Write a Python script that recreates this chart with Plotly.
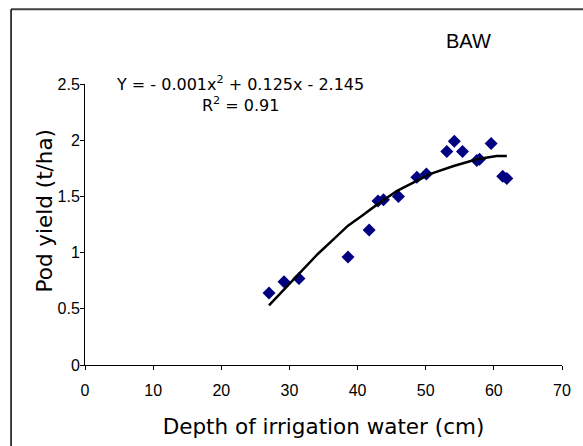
import plotly.graph_objects as go

# Observed data (depth of irrigation water, pod yield)
depth_cm = [27.0, 29.2, 31.4, 38.6, 41.7, 43.0, 43.8, 46.0, 48.7, 50.1,
            53.1, 54.2, 55.4, 57.5, 57.9, 59.6, 61.3, 61.9]
pod_yield = [0.64, 0.74, 0.77, 0.96, 1.20, 1.46, 1.47, 1.50, 1.67, 1.70,
             1.90, 1.99, 1.90, 1.82, 1.83, 1.97, 1.68, 1.66]

# Polynomial trendline
trend_x = [27.0, 29.0, 31.3, 34.2, 36.5, 38.6, 40.7, 42.7, 45.8, 48.3, 50.7, 54.1, 57.5, 60.4, 61.9]
trend_y = [0.53, 0.66, 0.80, 0.99, 1.12, 1.24, 1.33, 1.42, 1.55, 1.63, 1.70, 1.77, 1.83, 1.86, 1.86]

x_ticks = [0, 10, 20, 30, 40, 50, 60, 70]
y_ticks = [0, 0.5, 1, 1.5, 2, 2.5]
y_tick_text = ["0", "0.5", "1", "1.5", "2", "2.5"]

equation_text = "Y = - 0.001x<sup>2</sup> + 0.125x - 2.145<br>R<sup>2</sup> = 0.91"
panel_label = "BAW"
x_title = "Depth of irrigation water (cm)"
y_title = "Pod yield (t/ha)"

fig = go.Figure()
fig.add_trace(go.Scatter(
    x=depth_cm, y=pod_yield, mode="markers",
    marker=dict(symbol="diamond", size=10, color="#000080",
                line=dict(width=0)),
    showlegend=False, hoverinfo="x+y"))
fig.add_trace(go.Scatter(
    x=trend_x, y=trend_y, mode="lines",
    line=dict(color="black", width=2.5),
    showlegend=False, hoverinfo="skip"))

fig.update_layout(
    width=583, height=446,
    margin=dict(l=85, r=16, t=84, b=79, pad=0),
    paper_bgcolor="white", plot_bgcolor="white",
    font=dict(family="Liberation Sans, Arial, sans-serif", color="black"),
    xaxis=dict(range=[0, 70], tickvals=x_ticks, ticks="outside", ticklen=4,
               tickcolor="black", showline=True, linecolor="black", linewidth=1,
               showgrid=False, zeroline=False, ticklabelstandoff=7,
               tickfont=dict(size=16, family="Liberation Sans, Arial"),
               title=dict(text=x_title, standoff=20,
                          font=dict(size=21.5, family="DejaVu Sans, Verdana"))),
    yaxis=dict(range=[0, 2.5], tickvals=y_ticks, ticktext=y_tick_text,
               ticks="outside", ticklen=4, ticklabelstandoff=-3,
               tickcolor="black", showline=True, linecolor="black", linewidth=1,
               showgrid=False, zeroline=False,
               tickfont=dict(size=16, family="Liberation Sans, Arial")),
    annotations=[
        dict(text=y_title, xref="paper", yref="paper", x=-0.085, y=0.548,
             xanchor="center", yanchor="middle", showarrow=False, textangle=-90,
             font=dict(size=21.5, family="DejaVu Sans, Verdana", color="black")),
        dict(text=equation_text, xref="paper", yref="paper", x=0.325, y=0.963,
             xanchor="center", yanchor="middle", showarrow=False, align="center",
             font=dict(size=16, family="DejaVu Sans, Verdana", color="black")),
        dict(text=panel_label, xref="paper", yref="paper", x=0.803, y=1.153,
             xanchor="center", yanchor="middle", showarrow=False,
             font=dict(size=20, family="Liberation Sans, Arial", color="black")),
    ],
    shapes=[
        dict(type="line", xref="paper", yref="paper", x0=-0.155, x1=1.1,
             y0=1.266, y1=1.266, line=dict(color="#404040", width=2)),
        dict(type="line", xref="paper", yref="paper", x0=-0.155, x1=-0.155,
             y0=1.266, y1=-0.35, line=dict(color="black", width=1.5)),
    ],
)

fig.write_html("out.html")
